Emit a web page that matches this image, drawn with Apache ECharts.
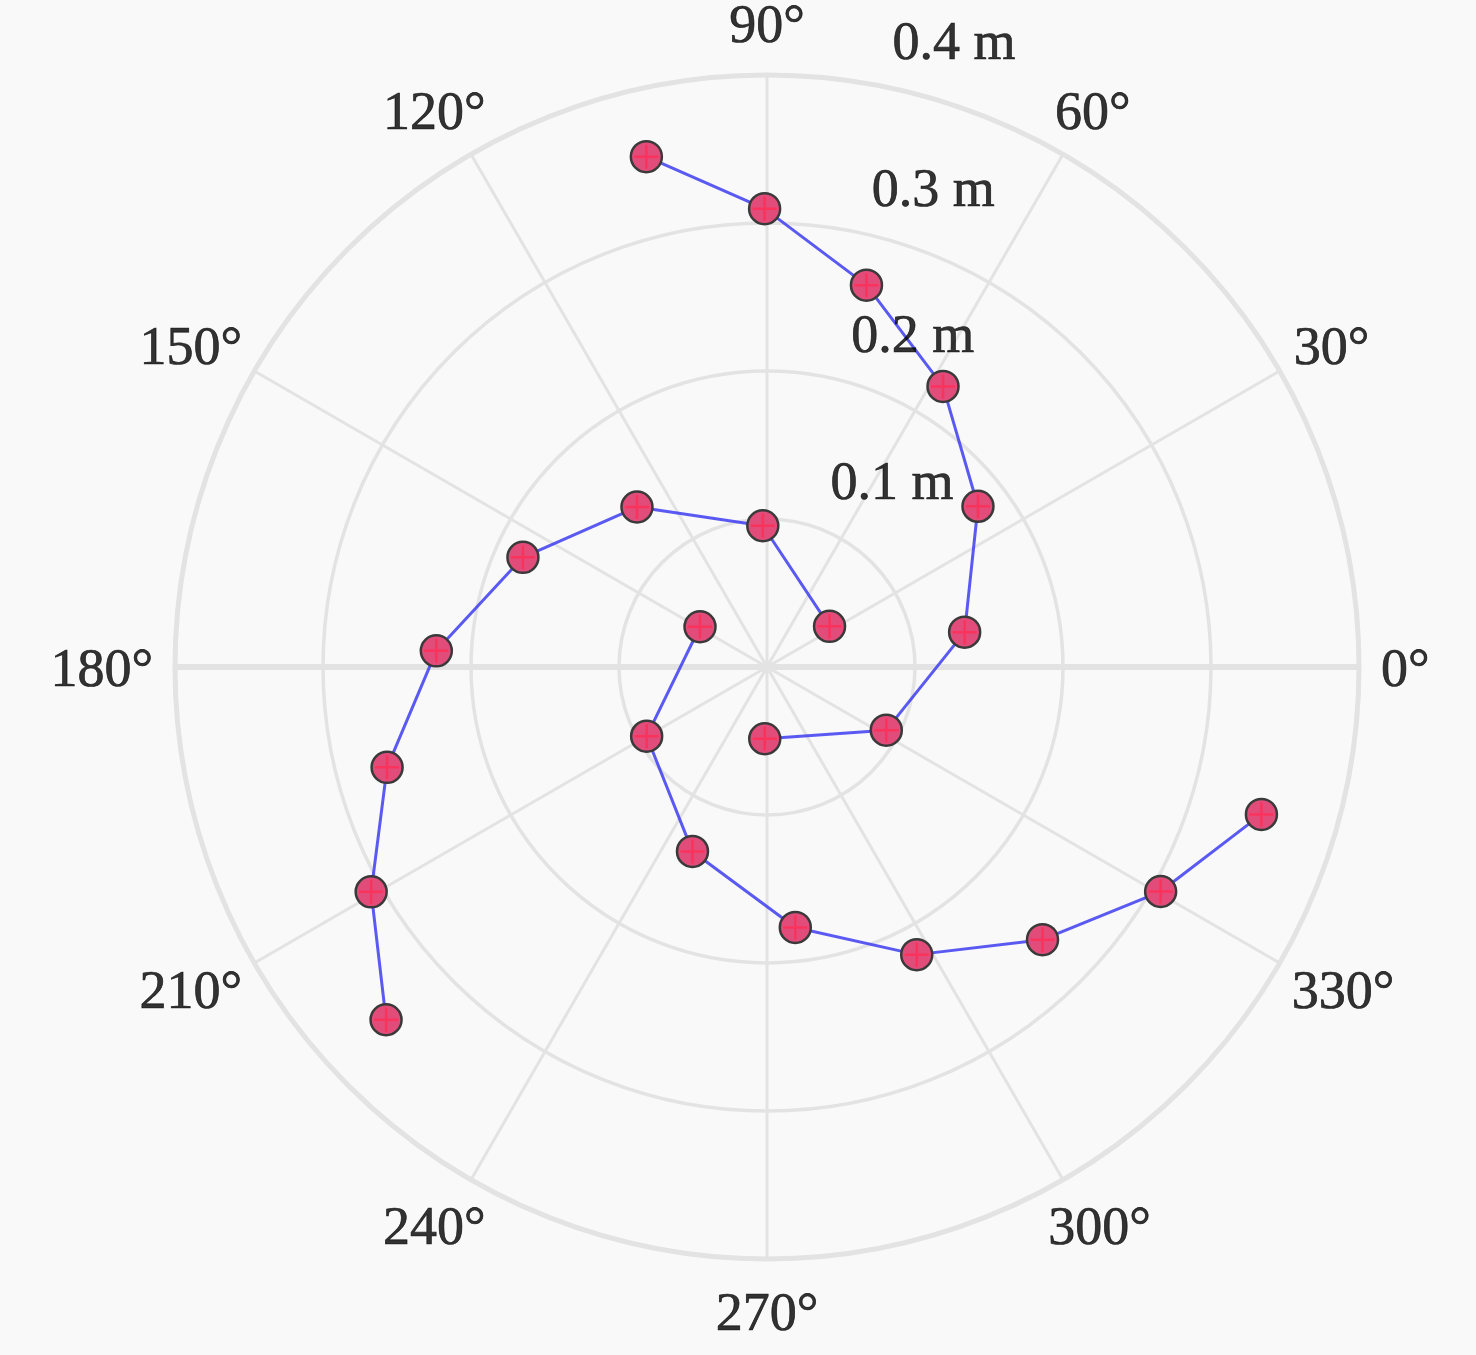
<!DOCTYPE html>
<html><head><meta charset="utf-8">
<script src="https://cdn.jsdelivr.net/npm/echarts@6/dist/echarts.min.js"></script>
<style>html,body{margin:0;padding:0;background:#f9f9f9}#c{width:1476px;height:1355px}</style>
</head><body><div id="c"></div>
<script>
// Spiral arm A
const armA_r   = [0.0485, 0.0912, 0.1356, 0.1792, 0.2238, 0.2666, 0.3097, 0.3543];
const armA_deg = [268.2, 332.1, 10.0, 37.3, 57.9, 75.4, 90.3, 103.3];
// Spiral arm B
const armB_r   = [0.0504, 0.0955, 0.1393, 0.1808, 0.2237, 0.2655, 0.3076, 0.3508];
const armB_deg = [33.0, 91.7, 129.1, 155.8, 177.2, 194.8, 209.6, 222.8];
// Spiral arm C
const armC_r   = [0.0528, 0.0938, 0.1344, 0.1770, 0.2191, 0.2619, 0.3062, 0.3486];
const armC_deg = [149.0, 209.9, 248.0, 276.2, 297.5, 315.3, 330.3, 343.4];

const radialTicks = [0.1, 0.2, 0.3, 0.4];
const radialTickLabels = ['0.1 m', '0.2 m', '0.3 m', '0.4 m'];
const angleTicks = [0, 30, 60, 90, 120, 150, 180, 210, 240, 270, 300, 330];
const angleTickLabels = ['0°', '30°', '60°', '90°', '120°', '150°', '180°', '210°', '240°', '270°', '300°', '330°'];

const FONT = '"Liberation Serif","Times New Roman",serif';
const FS = 54;
const GRID = '#e3e3e3';
const mctx = document.createElement('canvas').getContext('2d');
mctx.font = FS + 'px ' + FONT;

function pairs(r, a) { return r.map((v, i) => [v, a[i]]); }
const arms = [pairs(armA_r, armA_deg), pairs(armB_r, armB_deg), pairs(armC_r, armC_deg)];

const series = [];
series.push({
  type: 'line', coordinateSystem: 'polar', data: [[radialTicks[3], 0], [radialTicks[3], 180]],
  symbol: 'none', lineStyle: { color: GRID, width: 6 }, silent: true, z: 1, clip: false
});
arms.forEach(d => {
  series.push({
    type: 'line', coordinateSystem: 'polar', data: d, symbol: 'circle', symbolSize: 31, showSymbol: true,
    lineStyle: { color: 'rgba(50,50,240,0.8)', width: 3 },
    itemStyle: { color: '#e24c7a', borderColor: '#3a3a3a', borderWidth: 2.5 }, z: 3, clip: false
  });
  series.push({
    type: 'scatter', coordinateSystem: 'polar', data: d, symbol: 'path://M0,-10L0,10M-10,0L10,0',
    symbolSize: 24, itemStyle: { color: 'none', borderColor: '#ff2d55', borderWidth: 2.5 }, z: 4, clip: false, silent: true
  });
});

const angLabelData = angleTicks.map((a, i) => {
  const t = a * Math.PI / 180;
  const w = mctx.measureText(angleTickLabels[i]).width;
  const h = FS * 1.1, g = 22;
  return { name: angleTickLabels[i], value: [radialTicks[3], a],
    label: { offset: [(w / 2 + g) * Math.cos(t), -(h / 2 + g) * Math.sin(t) + 5] } };
});
const textStyle = { color: '#000', fontFamily: FONT, fontSize: FS, textBorderColor: '#000', textBorderWidth: 0.7 };
series.push({
  type: 'scatter', coordinateSystem: 'polar', data: angLabelData, symbolSize: 1,
  itemStyle: { color: 'rgba(0,0,0,0)' }, silent: true, clip: false, z: 5,
  label: Object.assign({ show: true, position: 'inside', formatter: '{b}' }, textStyle)
});
series.push({
  type: 'scatter', coordinateSystem: 'polar',
  data: radialTicks.map((v, i) => ({ name: radialTickLabels[i], value: [v, 82] })),
  symbolSize: 1, itemStyle: { color: 'rgba(0,0,0,0)' }, silent: true, clip: false, z: 5,
  label: Object.assign({ show: true, position: 'inside', align: 'left', verticalAlign: 'middle', offset: [43, -36],
    formatter: '{b}' }, textStyle)
});

const chart = echarts.init(document.getElementById('c'), null, { renderer: 'canvas' });
chart.setOption({
  backgroundColor: '#f9f9f9',
  animation: false,
  polar: { center: [767, 667], radius: 592 },
  angleAxis: {
    type: 'value', min: 0, max: 360, interval: 30, startAngle: 0, clockwise: false,
    axisLine: { show: true, lineStyle: { color: GRID, width: 5 } },
    axisTick: { show: false }, axisLabel: { show: false },
    splitLine: { show: true, lineStyle: { color: GRID, width: 3 } }
  },
  radiusAxis: {
    type: 'value', min: 0, max: 0.4, interval: 0.1,
    axisLine: { show: false }, axisTick: { show: false }, axisLabel: { show: false },
    splitLine: { show: true, lineStyle: { color: GRID, width: 3.5 } }
  },
  series: series
});
</script></body></html>
